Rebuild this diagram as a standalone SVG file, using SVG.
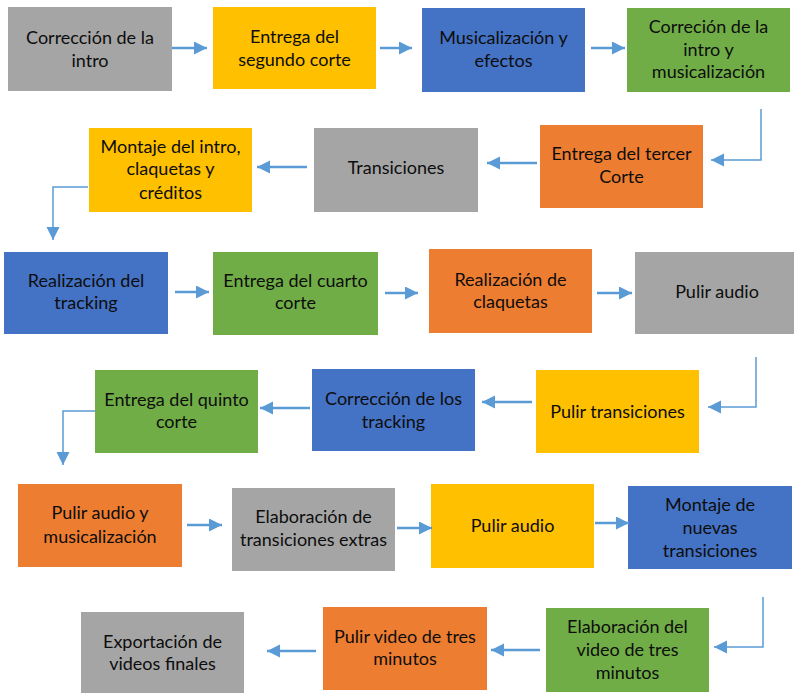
<svg xmlns="http://www.w3.org/2000/svg" width="794" height="693" viewBox="0 0 794 693">
<style>
.gray{fill:#A5A5A5}.yel{fill:#FFC000}.blue{fill:#4472C4}.green{fill:#70AD47}.orange{fill:#ED7D31}
text{font-family:Lato,"Open Sans","Liberation Sans",sans-serif;font-size:18px;fill:#0d0d0d;text-anchor:middle}
.ar{stroke:#5B9BD5;stroke-width:2.5;fill:none}
.el{stroke:#5B9BD5;stroke-width:1.5;fill:none}
</style>
<defs>
<marker id="ah" markerUnits="userSpaceOnUse" markerWidth="14" markerHeight="14" refX="13" refY="6.5" orient="auto">
<path d="M0,0 L13,6.5 L0,13 Z" fill="#5B9BD5"/>
</marker>
</defs>
<rect width="794" height="693" fill="#fff"/>

<g id="n1"><rect class="gray" x="8" y="7" width="164" height="84"/><text x="90" y="44">Corrección de la</text><text x="90" y="67">intro</text></g>
<g id="n2"><rect class="yel" x="213" y="7" width="163" height="82"/><text x="294.5" y="43">Entrega del</text><text x="294.5" y="66">segundo corte</text></g>
<g id="n3"><rect class="blue" x="422" y="8" width="163" height="84"/><text x="503.5" y="44">Musicalización y</text><text x="503.5" y="67">efectos</text></g>
<g id="n4"><rect class="green" x="627" y="8" width="163" height="84"/><text x="708.5" y="33">Correción de la</text><text x="708.5" y="56">intro y</text><text x="708.5" y="78">musicalización</text></g>
<g id="n5"><rect class="orange" x="540" y="125" width="163" height="83"/><text x="621.5" y="160">Entrega del tercer</text><text x="621.5" y="183">Corte</text></g>
<g id="n6"><rect class="gray" x="314" y="128" width="164" height="84"/><text x="396" y="174">Transiciones</text></g>
<g id="n7"><rect class="yel" x="89" y="128" width="163" height="84"/><text x="170.5" y="153">Montaje del intro,</text><text x="170.5" y="175">claquetas y</text><text x="170.5" y="199">créditos</text></g>

<g id="n8"><rect class="blue" x="4" y="252" width="164" height="82"/><text x="86" y="287">Realización del</text><text x="86" y="309">tracking</text></g>
<g id="n9"><rect class="green" x="213" y="252" width="165" height="83"/><text x="295.5" y="287">Entrega del cuarto</text><text x="295.5" y="309">corte</text></g>
<g id="n10"><rect class="orange" x="429" y="249" width="163" height="84"/><text x="510.5" y="286">Realización de</text><text x="510.5" y="308">claquetas</text></g>
<g id="n11"><rect class="gray" x="635" y="252" width="159" height="82"/><text x="717" y="298">Pulir audio</text></g>
<g id="n12"><rect class="yel" x="536" y="370" width="163" height="83"/><text x="617.5" y="418">Pulir transiciones</text></g>
<g id="n13"><rect class="blue" x="312" y="369" width="163" height="82"/><text x="393.5" y="405">Corrección de los</text><text x="393.5" y="428">tracking</text></g>
<g id="n14"><rect class="green" x="95" y="370" width="163" height="83"/><text x="176.5" y="406">Entrega del quinto</text><text x="176.5" y="428">corte</text></g>

<g id="n15"><rect class="orange" x="18" y="484" width="164" height="83"/><text x="100" y="519">Pulir audio y</text><text x="100" y="543">musicalización</text></g>
<g id="n16"><rect class="gray" x="232" y="488" width="163" height="83"/><text x="313.5" y="523">Elaboración de</text><text x="313.5" y="546">transiciones extras</text></g>
<g id="n17"><rect class="yel" x="431" y="484" width="163" height="84"/><text x="512.5" y="532">Pulir audio</text></g>
<g id="n18"><rect class="blue" x="628" y="486" width="164" height="83"/><text x="710" y="511">Montaje de</text><text x="710" y="534">nuevas</text><text x="710" y="557">transiciones</text></g>
<g id="n19"><rect class="green" x="546" y="608" width="163" height="84"/><text x="627.5" y="633">Elaboración del</text><text x="627.5" y="656">video de tres</text><text x="627.5" y="679">minutos</text></g>
<g id="n20"><rect class="orange" x="323" y="607" width="164" height="83"/><text x="405" y="643">Pulir video de tres</text><text x="405" y="665">minutos</text></g>
<g id="n21"><rect class="gray" x="81" y="612" width="163" height="81"/><text x="162.5" y="648">Exportación de</text><text x="162.5" y="670">videos finales</text></g>

<g id="connectors">
<line class="ar" x1="172" y1="48" x2="207" y2="48" marker-end="url(#ah)"/>
<line class="ar" x1="380" y1="48" x2="412" y2="48" marker-end="url(#ah)"/>
<line class="ar" x1="591" y1="48" x2="625" y2="48" marker-end="url(#ah)"/>
<polyline class="el" points="761,109 761,160 711,160" marker-end="url(#ah)"/>
<line class="ar" x1="537" y1="163" x2="487" y2="163" marker-end="url(#ah)"/>
<line class="ar" x1="307" y1="167" x2="257" y2="167" marker-end="url(#ah)"/>
<polyline class="el" points="88,187 53,187 53,240" marker-end="url(#ah)"/>
<line class="ar" x1="175" y1="292" x2="209" y2="292" marker-end="url(#ah)"/>
<line class="ar" x1="385" y1="293" x2="418" y2="293" marker-end="url(#ah)"/>
<line class="ar" x1="597" y1="293" x2="632" y2="293" marker-end="url(#ah)"/>
<polyline class="el" points="756,357 756,407 708,407" marker-end="url(#ah)"/>
<line class="ar" x1="532" y1="402" x2="482" y2="402" marker-end="url(#ah)"/>
<line class="ar" x1="310" y1="408" x2="260" y2="408" marker-end="url(#ah)"/>
<polyline class="el" points="95,411 63,411 63,465" marker-end="url(#ah)"/>
<line class="ar" x1="187" y1="525" x2="222" y2="525" marker-end="url(#ah)"/>
<line class="ar" x1="397" y1="528" x2="432" y2="528" marker-end="url(#ah)"/>
<line class="ar" x1="595" y1="523" x2="629" y2="523" marker-end="url(#ah)"/>
<polyline class="el" points="763,597 763,647 714,647" marker-end="url(#ah)"/>
<line class="ar" x1="540" y1="650" x2="491" y2="650" marker-end="url(#ah)"/>
<line class="ar" x1="316" y1="651" x2="267" y2="651" marker-end="url(#ah)"/>
</g>
</svg>
